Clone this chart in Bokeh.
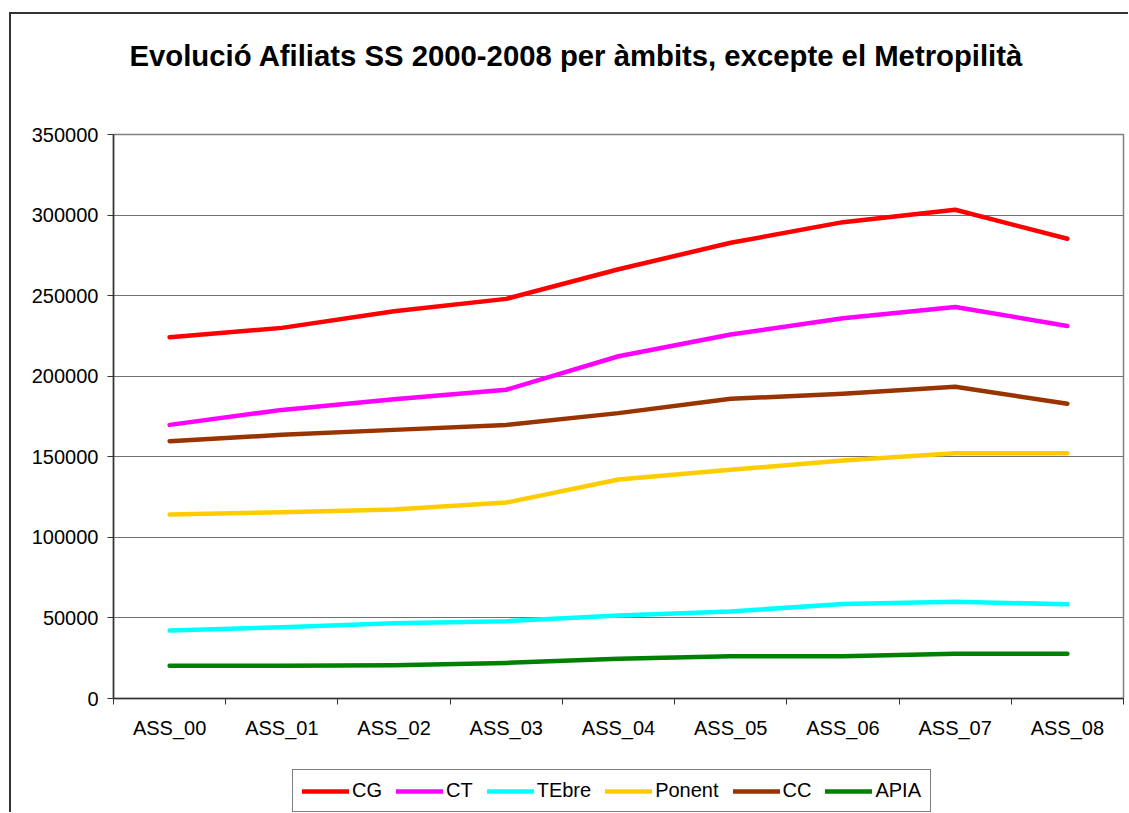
from bokeh.plotting import figure
from bokeh.layouts import column
from bokeh.models import Range1d, FixedTicker, Legend, LegendItem, BasicTickFormatter, Title
from bokeh.embed import file_html
from bokeh.resources import INLINE

categories = ["ASS_00", "ASS_01", "ASS_02", "ASS_03", "ASS_04", "ASS_05", "ASS_06", "ASS_07", "ASS_08"]
cg = [224200, 230000, 240300, 248000, 266400, 282800, 295600, 303300, 285300]
ct = [169800, 179100, 185700, 191600, 212400, 225900, 236000, 243000, 231200]
tebre = [42200, 44200, 46700, 48000, 51500, 54000, 58700, 60000, 58500]
ponent = [114200, 115600, 117300, 121600, 135900, 141900, 147700, 152200, 152200]
cc = [159700, 163600, 166700, 169800, 177100, 186000, 189100, 193400, 182900]
apia = [20300, 20300, 20700, 22100, 24600, 26200, 26200, 27700, 27700]
series_names = ["CG", "CT", "TEbre", "Ponent", "CC", "APIA"]
series_values = [cg, ct, tebre, ponent, cc, apia]
colors = ["#FF0000", "#FF00FF", "#00FFFF", "#FFCC00", "#993300", "#008000"]
y_ticks = [0, 50000, 100000, 150000, 200000, 250000, 300000, 350000]
title_text = "Evolució Afiliats SS 2000-2008 per àmbits, excepte el Metropilità"

FONT = "Liberation Sans"
n = len(categories)
xs = [i + 0.5 for i in range(n)]

W = 1117
p = figure(width=W, height=731, output_backend="svg", toolbar_location=None, title=None,
           x_range=Range1d(0, n), y_range=Range1d(0, y_ticks[-1]),
           min_border_left=102, min_border_right=5, min_border_top=120, min_border_bottom=47,
           background_fill_color="white", border_fill_color="white")

# spacer between title and plot area, then the title itself
p.add_layout(Title(text=" ", text_font_size="1px", standoff=55), "above")
p.add_layout(Title(text=title_text, text_font=FONT, text_font_size="29.3px",
                   text_font_style="bold", text_color="black",
                   align="left", offset=16, standoff=10), "above")

p.outline_line_color = "#808080"
p.outline_line_width = 1.5

# axes
p.xaxis.ticker = FixedTicker(ticks=xs, minor_ticks=list(range(n + 1)))
p.xaxis.major_label_overrides = {x: c for x, c in zip(xs, categories)}
p.xaxis.major_tick_line_color = None
p.xaxis.minor_tick_out = 6
p.xaxis.minor_tick_in = 0
p.xaxis.minor_tick_line_color = "#333333"
p.xaxis.axis_line_color = "#333333"
p.xaxis.axis_line_width = 1.5
p.xaxis.major_label_text_font = FONT
p.xaxis.major_label_text_font_size = "20px"
p.xaxis.major_label_text_color = "black"
p.xaxis.major_label_standoff = 12

p.yaxis.ticker = FixedTicker(ticks=y_ticks, minor_ticks=[])
p.yaxis.formatter = BasicTickFormatter(use_scientific=False)
p.yaxis.major_tick_out = 6
p.yaxis.major_tick_in = 0
p.yaxis.major_tick_line_color = "#333333"
p.yaxis.axis_line_color = "#333333"
p.yaxis.axis_line_width = 1.5
p.yaxis.major_label_text_font = FONT
p.yaxis.major_label_text_font_size = "20px"
p.yaxis.major_label_text_color = "black"
p.yaxis.major_label_standoff = 9

p.xgrid.visible = False
p.ygrid.grid_line_color = "#707070"
p.ygrid.grid_line_width = 1

for name, vals, col in zip(series_names, series_values, colors):
    p.line(xs, vals, line_color=col, line_width=4.5, line_cap="round", line_join="round")

# legend strip below the chart (its series renderers lie outside this strip's view)
pl = figure(width=W, height=67, output_backend="svg", toolbar_location=None, title=None,
            x_range=Range1d(0, 1), y_range=Range1d(0, 1),
            x_axis_type=None, y_axis_type=None,
            min_border_left=0, min_border_right=0, min_border_top=0, min_border_bottom=0,
            background_fill_color="white", border_fill_color="white")
pl.outline_line_color = None
pl.grid.visible = False

items = []
for name, vals, col in zip(series_names, series_values, colors):
    r = pl.line(xs, vals, line_color=col, line_width=4.5, line_cap="round")
    items.append(LegendItem(label=name, renderers=[r]))

legend = Legend(items=items, orientation="horizontal", location=(179, 0),
                glyph_width=47, glyph_height=20, label_standoff=3, spacing=14,
                padding=9, margin=0,
                label_text_font=FONT, label_text_font_size="20px", label_text_color="black",
                border_line_color="black", border_line_width=1.2,
                background_fill_color="white", background_fill_alpha=1)
pl.add_layout(legend)

layout = column(p, pl, spacing=0,
                styles={"margin-left": "9px", "margin-top": "12px",
                        "border-left": "2px solid #333333", "border-top": "2px solid #333333"})

open("out.html", "w").write(file_html(layout, INLINE))
